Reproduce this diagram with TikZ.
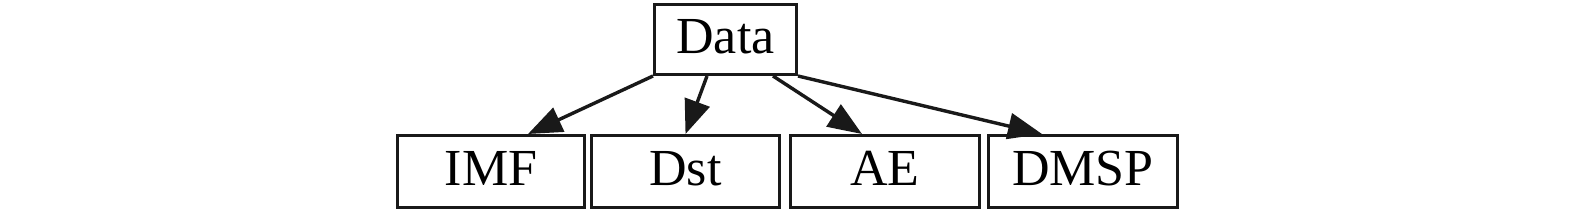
\documentclass[tikz,border=0pt]{standalone}
\usepackage{fontspec}
\setmainfont{Liberation Serif}
\usetikzlibrary{arrows.meta}
\begin{document}
\begin{tikzpicture}[x=1pt,y=-1pt,
  box/.style={draw=black!90,line width=3.4pt,inner sep=0pt,font=\fontsize{52}{62}\selectfont,text=black,
    text height=34pt,text depth=6pt},
  arr/.style={draw=black!90,line width=3.4pt,-{Triangle[length=34pt,width=26pt]},fill=black!90}]
\useasboundingbox (0,0) rectangle (1575,213);
\node[box,minimum width=141.6pt,minimum height=69.6pt] (data) at (725.5,39.5) {Data};
\node[box,minimum width=186.6pt,minimum height=71.6pt] (imf) at (491,171.5) {IMF};
\node[box,minimum width=187.6pt,minimum height=71.6pt] (dst) at (685.5,171.5) {Dst};
\node[box,minimum width=188.6pt,minimum height=71.6pt] (ae) at (885,171.5) {AE};
\node[box,minimum width=188.6pt,minimum height=71.6pt] (dmsp) at (1083,171.5) {DMSP};
\draw[arr] (data.south west) -- ([xshift=37pt]imf.north);
\draw[arr] ([xshift=-18.5pt]data.south) -- (dst.north);
\draw[arr] ([xshift=47.5pt]data.south) -- ([xshift=-23pt]ae.north);
\draw[arr] (data.south east) -- ([xshift=-41pt]dmsp.north);
\end{tikzpicture}
\end{document}
